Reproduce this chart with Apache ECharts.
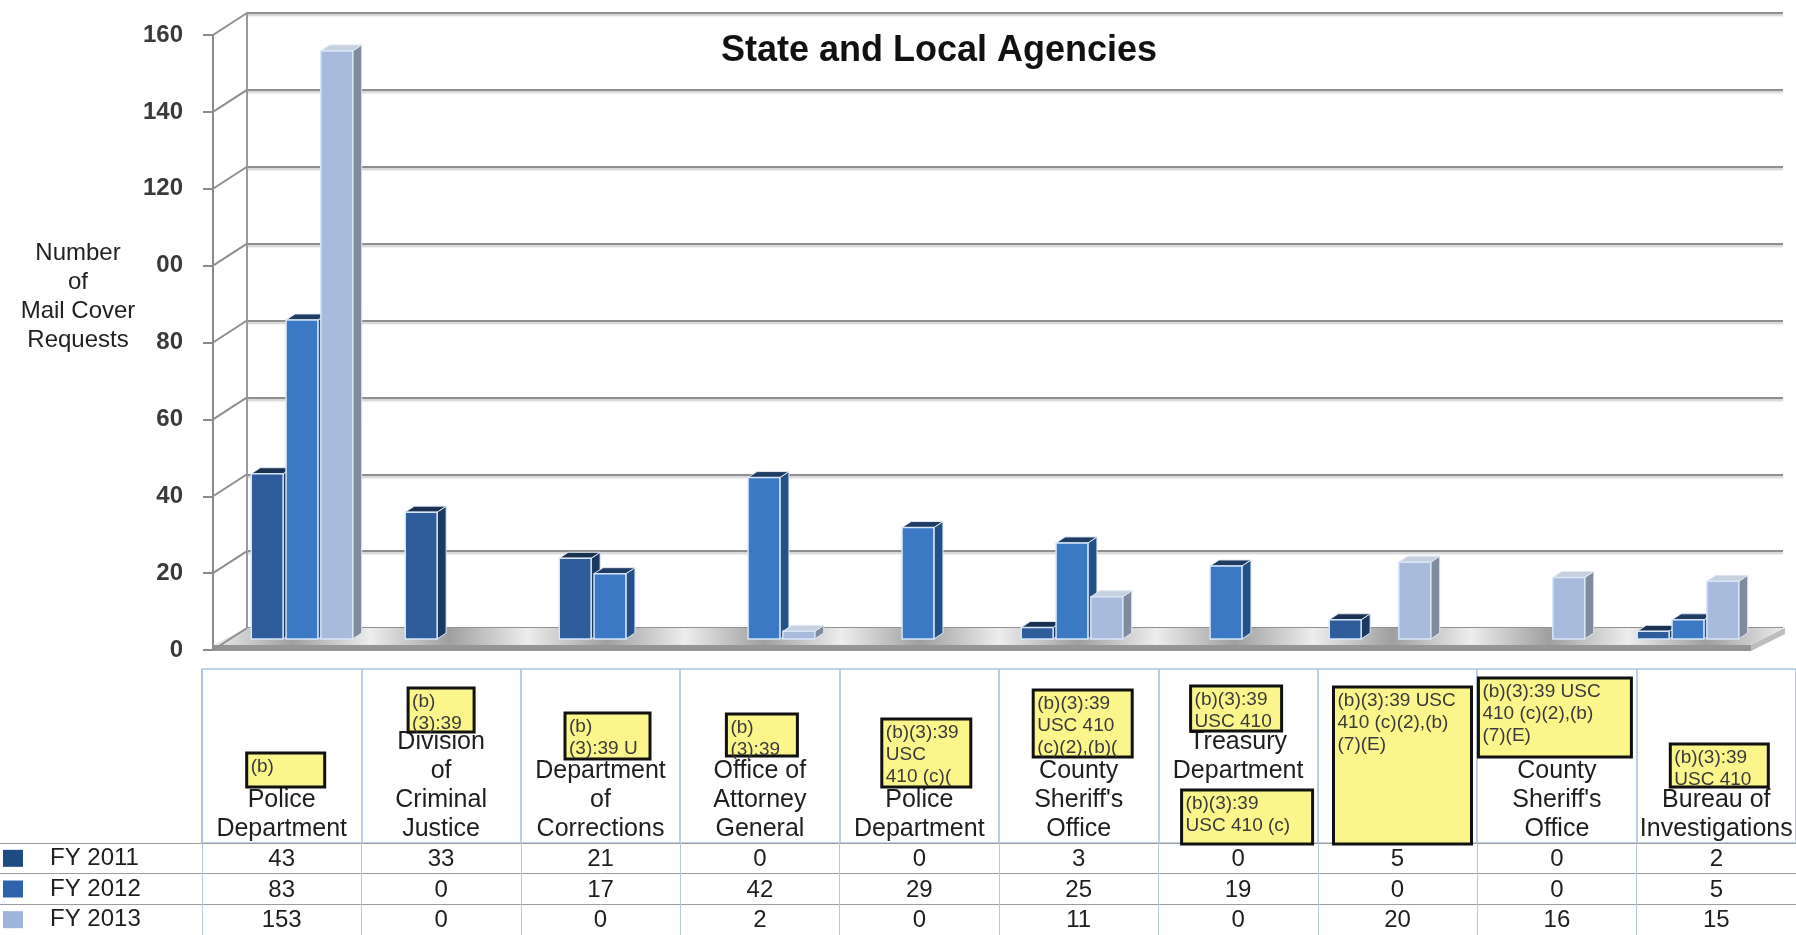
<!DOCTYPE html>
<html><head><meta charset="utf-8">
<script src="https://cdn.jsdelivr.net/npm/echarts@6/dist/echarts.min.js"></script>
<style>html,body{margin:0;padding:0;background:#fff}#c{width:1796px;height:935px}</style>
</head><body><div id="c"></div>
<script>
// ---------------- data ----------------
const categories = ['Police\nDepartment', 'Division\nof\nCriminal\nJustice', 'Department\nof\nCorrections', 'Office of\nAttorney\nGeneral', 'Police\nDepartment', "County\nSheriff's\nOffice", 'Treasury\nDepartment', '', "County\nSheriff's\nOffice", 'Bureau of\nInvestigations'];
const seriesNames = ['FY 2011', 'FY 2012', 'FY 2013'];
const fy2011 = [43, 33, 21, 0, 0, 3, 0, 5, 0, 2];
const fy2012 = [83, 0, 17, 42, 29, 25, 19, 0, 0, 5];
const fy2013 = [153, 0, 0, 2, 0, 11, 0, 20, 16, 15];
const yTickValues = [0, 20, 40, 60, 80, 100, 120, 140, 160];
const yTickLabels = ['0', '20', '40', '60', '80', '00', '120', '140', '160'];
const redactedColumns = [0, 1, 2, 3, 4, 5, 6, 6, 7, 8, 9];
const redactedTexts = ['(b)', '(b)\n(3):39', '(b)\n(3):39 U', '(b)\n(3):39', '(b)(3):39\nUSC\n410 (c)(', '(b)(3):39\nUSC 410\n(c)(2),(b)(', '(b)(3):39\nUSC 410', '(b)(3):39\nUSC 410 (c)', '(b)(3):39 USC\n410 (c)(2),(b)\n(7)(E)', '(b)(3):39 USC\n410 (c)(2),(b)\n(7)(E)', '(b)(3):39\nUSC 410'];

// ---------------- layout / style ----------------
// redaction box geometry: [x offset from column centre, top inside header cell, width, height]
const redactionBoxes = [[4,84,78,34],[0,19,66,44],[7,44,85,46],[2,45,71,42],[7,50,89,68],[4,21,99,67],[-2,17,91,45],[9,121,131,54],[5,18,138,157],[-2,9,153,79],[3,75,98,43]];
const hiddenLinesBelow = {6: 2};
const FONT = '"Liberation Sans", Arial, Helvetica, sans-serif';
const barStyles = [
  {front: '#2F5D9B', side: '#1C3960', top: '#1A3152'},
  {front: '#3B79C4', side: '#24508A', top: '#1F3C63'},
  {front: '#A9BBDC', side: '#808B9D', top: '#C7D0DE'}
];
const legendColors = ['#1F4B85', '#3064AA', '#9DB4DC'];
const DEPTH_X = 34, DEPTH_Y = 22;

const seriesData = [fy2011, fy2012, fy2013];

function bar3D(sIdx) {
  return function (params, api) {
    const v = api.value(1);
    if (!v) return null;
    const band = api.size([1, 0])[0];
    const top = api.coord([api.value(0), v]);
    const base = api.coord([api.value(0), 0]);
    const w = band * 0.207, step = band * 0.226;
    const x = top[0] + (sIdx - 1) * step - w / 2;
    const y = top[1], y0 = base[1];
    const dx = 9, dy = 6;
    const st = barStyles[sIdx];
    return {type: 'group', children: [
      {type: 'polygon', shape: {points: [[x + w, y], [x + w + dx, y - dy], [x + w + dx, y0 - dy], [x + w, y0]]},
        style: {fill: st.side, stroke: '#dfe8f3', lineWidth: 1}},
      {type: 'polygon', shape: {points: [[x, y], [x + dx, y - dy], [x + w + dx, y - dy], [x + w, y]]},
        style: {fill: st.top, stroke: '#dfe8f3', lineWidth: 1}},
      {type: 'rect', shape: {x: x, y: y, width: w, height: y0 - y},
        style: {fill: st.front, stroke: '#d6e6f8', lineWidth: 1.5}}
    ]};
  };
}

const floorStops = [];
for (let i = 0; i <= categories.length; i++) {
  const p = i / categories.length;
  floorStops.push({offset: Math.min(1, p), color: '#ededed'});
  if (i < categories.length) floorStops.push({offset: (i + 0.5) / categories.length, color: '#9f9f9f'});
}

const chart = echarts.init(document.getElementById('c'), null, {renderer: 'canvas'});

const option = {
  animation: false,
  backgroundColor: '#ffffff',
  textStyle: {fontFamily: FONT},
  title: [
    {text: 'State and Local Agencies', left: 716, top: 26,
      textStyle: {fontSize: 36, fontWeight: 'bold', color: '#111', fontFamily: FONT, lineHeight: 40}},
    {text: 'Number\nof\nMail Cover\nRequests', left: 73, top: 234, textAlign: 'center',
      textStyle: {fontSize: 24, fontWeight: 'normal', color: '#222', fontFamily: FONT, lineHeight: 29}}
  ],
  grid: [
    {left: 225, right: 31, top: 24, bottom: 296, show: false, outerBoundsMode: 'none'},
    {left: 213, right: 45, top: 35, bottom: 285, show: false, outerBoundsMode: 'none'},
    {left: 247, right: 13, top: 13, bottom: 307, show: false, outerBoundsMode: 'none'},
    {left: 202, right: 0, top: 669, bottom: 92, show: false, outerBoundsMode: 'none'},
    {left: 202, right: 0, top: 843, bottom: 0, show: false, outerBoundsMode: 'none'},
    {left: 0, width: 202, top: 843, bottom: 0, show: false, outerBoundsMode: 'none'}
  ],
  xAxis: [
    {gridIndex: 0, type: 'category', data: categories, show: false},
    {gridIndex: 1, type: 'value', min: 0, max: 1, show: false},
    {gridIndex: 2, type: 'value', min: 0, max: 1, show: false},
    {gridIndex: 3, type: 'category', data: categories, position: 'bottom',
      axisLine: {show: false}, axisTick: {show: false},
      splitLine: {show: true, interval: 0, lineStyle: {color: '#a9bfdc', width: 1.5}},
      axisLabel: {show: true, inside: true, interval: 0, margin: 0, fontSize: 25, lineHeight: 28.7, color: '#1e1e1e', fontFamily: FONT,
        formatter: function (v, i) { let s = v; const n = hiddenLinesBelow[i] || 0; for (let k = 0; k < n; k++) s += '\n '; return s; }}},
    {gridIndex: 4, type: 'category', data: categories, axisLine: {show: false}, axisTick: {show: false}, axisLabel: {show: false},
      splitLine: {show: true, interval: 0, lineStyle: {color: '#b5c5da', width: 1}}},
    {gridIndex: 5, type: 'value', min: 0, max: 1, show: false}
  ],
  yAxis: [
    {gridIndex: 0, type: 'value', min: 0, max: 160, interval: 20, show: false},
    {gridIndex: 1, type: 'value', min: 0, max: 160, interval: 20,
      axisLine: {show: true, lineStyle: {color: '#8a8a8a', width: 2}},
      axisTick: {show: true, length: 10, lineStyle: {color: '#8a8a8a', width: 2}},
      splitLine: {show: false},
      axisLabel: {show: true, margin: 30, fontSize: 24, fontWeight: 'bold', color: '#3a3a3a', fontFamily: FONT,
        formatter: function (v) { const i = yTickValues.indexOf(v); return i >= 0 ? yTickLabels[i] : ''; }}},
    {gridIndex: 2, type: 'value', min: 0, max: 160, interval: 20, position: 'right',
      axisLine: {show: true, lineStyle: {color: '#9a9a9a', width: 2}},
      axisTick: {show: false}, axisLabel: {show: false},
      splitLine: {show: true, lineStyle: {color: '#8f8f8f', width: 2, shadowColor: 'rgba(0,0,0,0.22)', shadowOffsetY: 2, shadowBlur: 2}}},
    {gridIndex: 3, type: 'value', min: 0, max: 1, interval: 1,
      axisLine: {show: true, lineStyle: {color: '#a9bfdc', width: 1.5}}, axisTick: {show: false}, axisLabel: {show: false},
      splitLine: {show: true, lineStyle: {color: '#a9c3e3', width: 1.5}}},
    {gridIndex: 4, type: 'category', data: seriesNames, inverse: true,
      axisLine: {show: false}, axisTick: {show: false}, axisLabel: {show: false},
      splitLine: {show: true, interval: 0, lineStyle: {color: '#9c9c9c', width: 1}}},
    {gridIndex: 5, type: 'category', data: seriesNames, inverse: true,
      axisLine: {show: false}, axisTick: {show: false},
      splitLine: {show: true, interval: 0, lineStyle: {color: '#9c9c9c', width: 1}},
      axisLabel: {show: true, inside: true, interval: 0, margin: 3, fontSize: 24, color: '#1e1e1e', fontFamily: FONT,
        formatter: function (v, i) { return '{k' + i + '|}{g|}' + v; },
        rich: {
          k0: {width: 20, height: 17, backgroundColor: legendColors[0]},
          k1: {width: 20, height: 17, backgroundColor: legendColors[1]},
          k2: {width: 20, height: 17, backgroundColor: legendColors[2]},
          g: {width: 27}
        }}}
  ],
  series: [
    {type: 'custom', xAxisIndex: 1, yAxisIndex: 1, z: 1, silent: true, data: [[0, 0]],
      renderItem: function (params, api) {
        const fl = api.coord([0, 0]), fr = api.coord([1, 0]);
        const t = 5;
        return {type: 'group', children: [
          {type: 'polygon', shape: {points: [[fl[0], fl[1] - t], [fr[0], fr[1] - t], [fr[0] + DEPTH_X, fr[1] - DEPTH_Y], [fl[0] + DEPTH_X, fl[1] - DEPTH_Y]]},
            style: {fill: new echarts.graphic.LinearGradient(0, 0, 1, 0, floorStops)}},
          {type: 'polygon', shape: {points: [[fl[0], fl[1] - t], [fr[0], fr[1] - t], [fr[0], fr[1] + 1], [fl[0], fl[1] + 1]]},
            style: {fill: '#959595'}},
          {type: 'polygon', shape: {points: [[fr[0], fr[1] - t], [fr[0] + DEPTH_X, fr[1] - DEPTH_Y], [fr[0] + DEPTH_X, fr[1] - DEPTH_Y + t + 1], [fr[0], fr[1] + 1]]},
            style: {fill: '#bdbdbd'}}
        ]};
      }},
    {type: 'custom', xAxisIndex: 1, yAxisIndex: 1, z: 1, silent: true,
      data: yTickValues.map(function (v) { return [0, v]; }),
      renderItem: function (params, api) {
        const p = api.coord([0, api.value(1)]);
        return {type: 'line', shape: {x1: p[0], y1: p[1], x2: p[0] + DEPTH_X, y2: p[1] - DEPTH_Y},
          style: {stroke: '#8f8f8f', lineWidth: 2}};
      }},
    {type: 'custom', name: seriesNames[0], xAxisIndex: 0, yAxisIndex: 0, z: 3,
      data: fy2011.map(function (v, i) { return [i, v]; }), renderItem: bar3D(0)},
    {type: 'custom', name: seriesNames[1], xAxisIndex: 0, yAxisIndex: 0, z: 3,
      data: fy2012.map(function (v, i) { return [i, v]; }), renderItem: bar3D(1)},
    {type: 'custom', name: seriesNames[2], xAxisIndex: 0, yAxisIndex: 0, z: 3,
      data: fy2013.map(function (v, i) { return [i, v]; }), renderItem: bar3D(2)},
    {type: 'custom', xAxisIndex: 4, yAxisIndex: 4, z: 3, silent: true,
      data: (function () { const d = []; seriesData.forEach(function (arr, s) { arr.forEach(function (v, i) { d.push([i, s, v]); }); }); return d; })(),
      renderItem: function (params, api) {
        const p = api.coord([api.value(0), api.value(1)]);
        return {type: 'text', x: p[0], y: p[1] + 1,
          style: {text: String(api.value(2)), fill: '#1e1e1e', font: '24px ' + FONT, align: 'center', verticalAlign: 'middle'}};
      }},
    {type: 'custom', xAxisIndex: 3, yAxisIndex: 3, z: 5, silent: true,
      data: redactedColumns.map(function (c, k) { return [c, 0, k]; }),
      renderItem: function (params, api) {
        const k = api.value(2);
        const b = redactionBoxes[k];
        const p = api.coord([api.value(0), 1]);
        const x = p[0] + b[0] - b[2] / 2, y = p[1] + b[1];
        return {type: 'group', children: [
          {type: 'rect', shape: {x: x, y: y, width: b[2], height: b[3]},
            style: {fill: '#FAF68C', stroke: '#111', lineWidth: 3}},
          {type: 'text', x: x + 4, y: y + 3,
            style: {text: redactedTexts[k], fill: '#3a3a3a', font: '19px ' + FONT, lineHeight: 22, align: 'left', verticalAlign: 'top'}}
        ]};
      }}
  ]
};
chart.setOption(option);
</script>
</body></html>
